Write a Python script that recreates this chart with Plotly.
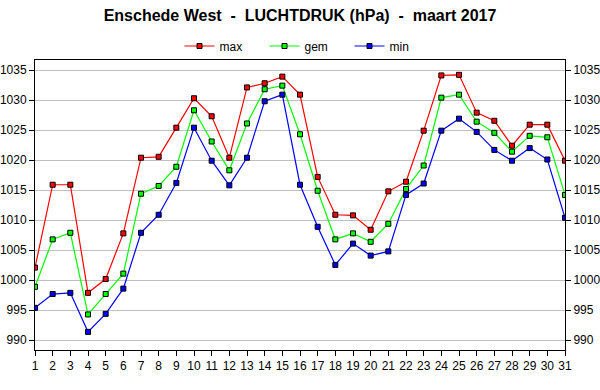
import plotly.graph_objects as go

days = list(range(1, 32))
max_vals = [1002.1, 1015.9, 1015.9, 997.9, 1000.2, 1007.8, 1020.4, 1020.55, 1025.4, 1030.3,
            1027.3, 1020.4, 1032.1, 1032.8, 1033.9, 1030.9, 1017.2, 1010.9, 1010.8, 1008.4,
            1014.8, 1016.4, 1024.9, 1034.1, 1034.2, 1027.9, 1026.55, 1022.4, 1025.9, 1025.9, 1019.9]
gem_vals = [998.9, 1006.8, 1007.9, 994.3, 997.7, 1001.1, 1014.4, 1015.7, 1018.9, 1028.3,
            1023.1, 1018.3, 1026.1, 1031.8, 1032.4, 1024.3, 1014.9, 1006.8, 1007.8, 1006.4,
            1009.4, 1015.2, 1019.1, 1030.4, 1030.9, 1026.4, 1024.55, 1021.4, 1024.05, 1023.8, 1014.2]
min_vals = [995.4, 997.7, 997.9, 991.4, 994.4, 998.6, 1007.9, 1010.9, 1016.2, 1025.4,
            1019.9, 1015.8, 1020.4, 1029.8, 1030.9, 1015.9, 1008.9, 1002.55, 1006.1, 1004.1,
            1004.8, 1014.2, 1016.1, 1024.9, 1026.9, 1024.7, 1021.7, 1019.9, 1022.0, 1020.1, 1010.4]
y_ticks = [990, 995, 1000, 1005, 1010, 1015, 1020, 1025, 1030, 1035]
y_range = [988.38, 1036.67]

font_family = "Liberation Sans, Arial, sans-serif"

fig = go.Figure()
for name, vals, col in [("max", max_vals, "#ff0000"), ("gem", gem_vals, "#00ff00"), ("min", min_vals, "#0000ff")]:
    fig.add_trace(go.Scatter(
        x=days, y=vals, name=name, mode="lines+markers",
        line=dict(color=col, width=1.2),
        marker=dict(symbol="square", size=5, color=col, line=dict(color="black", width=1)),
    ))
# invisible trace for right axis
fig.add_trace(go.Scatter(x=days, y=max_vals, yaxis="y2", showlegend=False,
                         mode="lines", line=dict(width=0), hoverinfo="skip", opacity=0))

fig.update_layout(
    width=600, height=390,
    margin=dict(l=35, r=35, t=60, b=40, autoexpand=False),
    paper_bgcolor="white", plot_bgcolor="white",
    font=dict(family=font_family, size=12, color="black"),
    title=dict(text="<b>Enschede West  -  LUCHTDRUK (hPa)  -  maart 2017</b>",
               x=0.5, xanchor="center", y=1 - 15 / 390, yanchor="middle",
               font=dict(size=16, family=font_family)),
    legend=dict(orientation="h", x=0.5 + 7 / 530, xanchor="center", y=(350 - 46) / 290, yanchor="middle",
                font=dict(size=12), entrywidth=40, itemwidth=30, bgcolor="rgba(0,0,0,0)"),
    showlegend=True,
    xaxis=dict(range=[1, 31], tickmode="array", tickvals=days, ticks="outside", ticklen=5,
               tickcolor="black", showgrid=False, showline=True, linecolor="black", linewidth=1,
               mirror=True, zeroline=False, tickfont=dict(size=12), automargin=False),
    yaxis=dict(range=y_range, tickmode="array", tickvals=y_ticks, ticks="outside", ticklen=5,
               tickcolor="black", showgrid=True, gridcolor="#c0c0c0", gridwidth=1,
               showline=True, linecolor="black", linewidth=1, zeroline=False,
               tickfont=dict(size=12), automargin=False),
    yaxis2=dict(range=y_range, tickmode="array", tickvals=y_ticks, ticks="outside", ticklen=5,
                tickcolor="black", overlaying="y", side="right", showgrid=False,
                showline=True, linecolor="black", linewidth=1, zeroline=False,
                tickfont=dict(size=12), automargin=False),
)

fig.write_html("out.html", config={"displayModeBar": False},
               post_script="document.body.style.margin='0';")
